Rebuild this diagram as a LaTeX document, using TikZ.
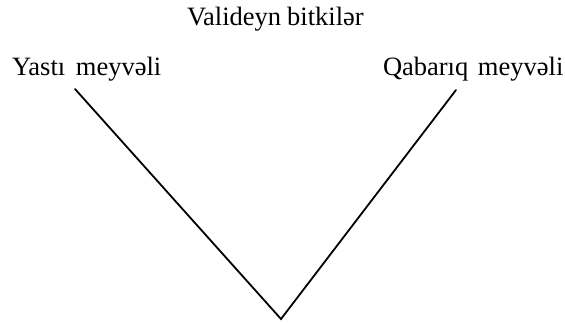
\documentclass[tikz,border=0pt]{standalone}
\usepackage{fontspec}
\setmainfont{Liberation Serif}
\tikzset{
  lbl/.style={anchor=base west, inner sep=0pt, outer sep=0pt, font=\fontsize{26.5bp}{30bp}\selectfont},
  ttl/.style={anchor=base west, inner sep=0pt, outer sep=0pt, font=\fontsize{26.5bp}{30bp}\selectfont},
  branch/.style={line width=1.8bp, line cap=round, line join=miter}
}
\begin{document}
\begin{tikzpicture}[x=1bp,y=-1bp]
\useasboundingbox[fill=white] (0,0) rectangle (565,322);
\node[ttl] (title) at (187,25) {Valideyn\hspace{6bp}bitkilər};
\node[lbl] (left) at (12,75) {Yastı\hspace{4bp} meyvəli};
\node[lbl] (right) at (383,75) {Qabarıq\hspace{3bp} meyvəli};
\coordinate (lt) at (75,89);
\coordinate (rt) at (456,90);
\coordinate (apex) at (281,319);
\draw[branch] (lt) -- (apex) -- (rt);
\end{tikzpicture}
\end{document}
